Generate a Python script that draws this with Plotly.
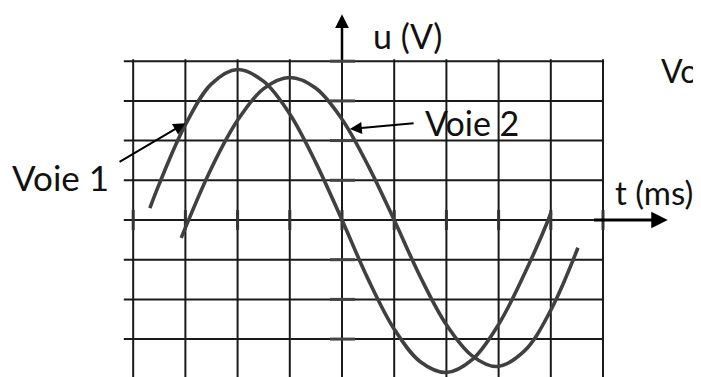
import plotly.graph_objects as go

# Values in grid divisions (1 unit = 1 square of the oscilloscope screen)
t_voie1 = [-3.68, -3.5, -3.0, -2.5, -2.0, -1.5, -1.0, -0.5, 0.0, 0.5, 1.0, 1.5, 2.0, 2.5, 3.0, 3.5, 3.95, 4.0]
u_voie1 = [0.30, 0.91, 2.40, 3.43, 3.79, 3.49, 2.67, 1.44, 0.0, -1.49, -2.75, -3.57, -3.84, -3.51, -2.63, -1.34, 0.0, 0.18]

t_voie2 = [-3.08, -2.5, -2.0, -1.5, -1.0, -0.5, 0.0, 0.5, 1.0, 1.5, 2.0, 2.5, 2.97, 3.5, 4.0, 4.52]
u_voie2 = [-0.45, 1.31, 2.51, 3.31, 3.59, 3.32, 2.54, 1.37, 0.0, -1.43, -2.64, -3.43, -3.69, -3.29, -2.27, -0.70]

grid_t = [-4, -3, -2, -1, 0, 1, 2, 3, 4, 5]
grid_u = [4, 3, 2, 1, 0, -1, -2, -3, -4]

FONT = "Lato, Open Sans, sans-serif"
INK = "#1a1a1a"
CURVE = "#404040"

fig = go.Figure()

fig.add_trace(go.Scatter(x=t_voie1, y=u_voie1, mode="lines", name="Voie 1",
                         line=dict(color=CURVE, width=3.6, shape="spline", smoothing=1.0)))
fig.add_trace(go.Scatter(x=t_voie2, y=u_voie2, mode="lines", name="Voie 2",
                         line=dict(color=CURVE, width=3.6, shape="spline", smoothing=1.0)))

shapes = []
# grid
for t in grid_t:
    shapes.append(dict(type="line", xref="x", yref="y", x0=t, x1=t, y0=max(grid_u) + 0.05, y1=-4.6,
                       line=dict(color=INK, width=2), layer="below"))
for u in grid_u:
    shapes.append(dict(type="line", xref="x", yref="y", x0=-4.18, x1=max(grid_t), y0=u, y1=u,
                       line=dict(color=INK, width=2), layer="below"))
# graduations on the axes
for t in grid_t:
    shapes.append(dict(type="line", xref="x", yref="y", x0=t, x1=t, y0=-0.25, y1=0.25,
                       line=dict(color="#333333", width=3), layer="below"))
for u in grid_u:
    if u != 0:
        shapes.append(dict(type="line", xref="x", yref="y", x0=-0.23, x1=0.25, y0=u, y1=u,
                           line=dict(color="#444444", width=3), layer="below"))

annotations = [
    # u axis arrow
    dict(x=0, y=5.18, ax=0, ay=max(grid_u), xref="x", yref="y", axref="x", ayref="y",
         text="", showarrow=True, arrowhead=2, arrowsize=1.1, arrowwidth=2.5, arrowcolor="black", standoff=0),
    # t axis arrow
    dict(x=6.24, y=0, ax=4.8, ay=0, xref="x", yref="y", axref="x", ayref="y",
         text="", showarrow=True, arrowhead=2, arrowsize=1.1, arrowwidth=3, arrowcolor="black", standoff=0),
    # Voie 1 pointer
    dict(x=-3.0, y=2.44, ax=-4.29, ay=1.44, xref="x", yref="y", axref="x", ayref="y",
         text="", showarrow=True, arrowhead=2, arrowsize=1.2, arrowwidth=2, arrowcolor="black", standoff=0),
    # Voie 2 pointer
    dict(x=0.15, y=2.29, ax=1.40, ay=2.44, xref="x", yref="y", axref="x", ayref="y",
         text="", showarrow=True, arrowhead=2, arrowsize=1.2, arrowwidth=2, arrowcolor="black", standoff=0),
]

labels = [
    ("u (V)", 0.55, 4.65, 34, "left"),
    ("t (ms)", 5.20, 0.71, 33, "left"),
    ("Voie 1", -6.36, 1.09, 35, "left"),
    ("Voie 2", 1.55, 2.45, 34, "left"),
    ("Vo", 6.86, 3.76, 32, "right"),
]
for txt, x, y, size, anchor in labels:
    annotations.append(dict(x=x, y=y, xref="x", yref="y", text=txt, showarrow=False,
                            xanchor=anchor, yanchor="middle",
                            font=dict(family=FONT, size=size, color="#111111")))

# the page body keeps its default 8px margin, so the figure is shrunk and the ranges shifted by 8px
fig.update_layout(
    width=693, height=369,
    margin=dict(l=0, r=0, t=0, b=0),
    paper_bgcolor="white", plot_bgcolor="white",
    showlegend=False,
    xaxis=dict(range=[-6.398, 6.877], visible=False, fixedrange=True),
    yaxis=dict(range=[-3.955, 5.340], visible=False, fixedrange=True),
    shapes=shapes,
    annotations=annotations,
)

fig.write_html("out.html")
